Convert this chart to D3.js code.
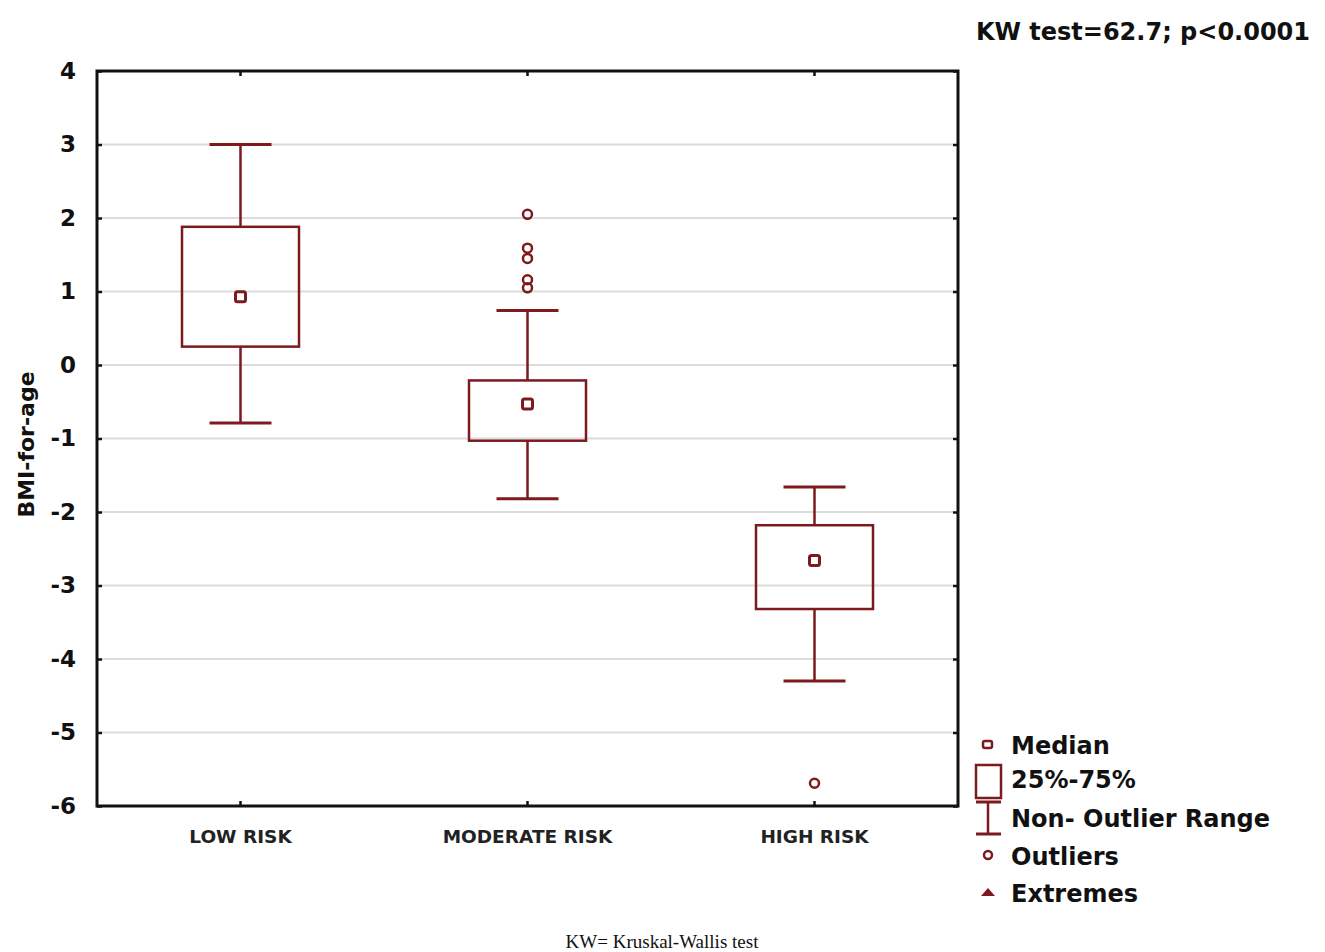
<!DOCTYPE html>
<html>
<head>
<meta charset="utf-8">
<script src="https://cdn.jsdelivr.net/npm/d3@7"></script>
<style>
  body { margin: 0; background: #fff; }
  svg { display: block; }
</style>
</head>
<body>
<svg id="chart"></svg>
<script>
const categories = ["LOW RISK", "MODERATE RISK", "HIGH RISK"];
const whiskerLow = [-0.79, -1.82, -4.3];
const q1 = [0.25, -1.03, -3.32];
const medians = [0.93, -0.53, -2.66];
const q3 = [1.88, -0.21, -2.18];
const whiskerHigh = [3.0, 0.74, -1.66];
const outliers = [[], [2.05, 1.59, 1.45, 1.16, 1.05], [-5.69]];
const yTicks = [4, 3, 2, 1, 0, -1, -2, -3, -4, -5, -6];
const legendLabels = ["Median", "25%-75%", "Non- Outlier Range", "Outliers", "Extremes"];

const W = 1325, H = 952;
const margin = { top: 71, left: 97, right: 367, bottom: 146 };
const red = "#7d1a1e";
const font = "DejaVu Sans, Liberation Sans, Arial, sans-serif";

const svg = d3.select("#chart").attr("width", W).attr("height", H);

const x = d3.scaleBand()
  .domain(categories)
  .range([margin.left, W - margin.right]);
const y = d3.scaleLinear()
  .domain([-6, 4])
  .range([H - margin.bottom, margin.top]);

const data = categories.map((c, i) => ({
  cat: c, lo: whiskerLow[i], q1: q1[i], med: medians[i], q3: q3[i], hi: whiskerHigh[i], out: outliers[i]
}));

// grid
svg.append("g")
  .selectAll("line")
  .data(yTicks.slice(1, -1))
  .join("line")
  .attr("x1", margin.left + 4)
  .attr("x2", W - margin.right - 4)
  .attr("y1", d => y(d))
  .attr("y2", d => y(d))
  .attr("stroke", "#dcdcdc")
  .attr("stroke-width", 2);

// axes
const yAxis = d3.axisLeft(y).tickValues(yTicks).tickSize(-5).tickPadding(21)
  .tickFormat(d => String(d));
svg.append("g")
  .attr("transform", `translate(${margin.left},0)`)
  .call(yAxis)
  .call(g => g.select(".domain").remove())
  .call(g => g.selectAll("line").attr("stroke", "#111").attr("stroke-width", 2.5))
  .call(g => g.selectAll("text")
    .attr("font-family", font).attr("font-weight", "bold").attr("font-size", 23).attr("fill", "#111"));

const yRight = d3.axisRight(y).tickValues(yTicks).tickSize(-5).tickFormat("");
svg.append("g")
  .attr("transform", `translate(${W - margin.right},0)`)
  .call(yRight)
  .call(g => g.select(".domain").remove())
  .call(g => g.selectAll("line").attr("stroke", "#111").attr("stroke-width", 2.5));

const xAxis = d3.axisBottom(x).tickSize(-5).tickPadding(24);
svg.append("g")
  .attr("transform", `translate(0,${H - margin.bottom})`)
  .call(xAxis)
  .call(g => g.select(".domain").remove())
  .call(g => g.selectAll("line").attr("stroke", "#111").attr("stroke-width", 2.5))
  .call(g => g.selectAll("text")
    .attr("font-family", font).attr("font-weight", "bold").attr("font-size", 18.5).attr("fill", "#222"));

const xTop = d3.axisTop(x).tickSize(-5).tickFormat("");
svg.append("g")
  .attr("transform", `translate(0,${margin.top})`)
  .call(xTop)
  .call(g => g.select(".domain").remove())
  .call(g => g.selectAll("line").attr("stroke", "#111").attr("stroke-width", 2.5));

// frame
svg.append("rect")
  .attr("x", margin.left)
  .attr("y", margin.top)
  .attr("width", W - margin.right - margin.left)
  .attr("height", H - margin.bottom - margin.top)
  .attr("fill", "none")
  .attr("stroke", "#111")
  .attr("stroke-width", 3);

// boxes
const boxW = 117, capW = 62, sq = 10;
const g = svg.append("g")
  .selectAll("g")
  .data(data)
  .join("g")
  .attr("transform", d => `translate(${x(d.cat) + x.bandwidth() / 2},0)`);

g.append("line")
  .attr("y1", d => y(d.hi)).attr("y2", d => y(d.q3))
  .attr("stroke", red).attr("stroke-width", 2.5);
g.append("line")
  .attr("y1", d => y(d.q1)).attr("y2", d => y(d.lo))
  .attr("stroke", red).attr("stroke-width", 2.5);
g.append("line")
  .attr("x1", -capW / 2).attr("x2", capW / 2)
  .attr("y1", d => y(d.hi)).attr("y2", d => y(d.hi))
  .attr("stroke", red).attr("stroke-width", 3);
g.append("line")
  .attr("x1", -capW / 2).attr("x2", capW / 2)
  .attr("y1", d => y(d.lo)).attr("y2", d => y(d.lo))
  .attr("stroke", red).attr("stroke-width", 3);
g.append("rect")
  .attr("x", -boxW / 2)
  .attr("y", d => y(d.q3))
  .attr("width", boxW)
  .attr("height", d => y(d.q1) - y(d.q3))
  .attr("fill", "none")
  .attr("stroke", red).attr("stroke-width", 2.5);
g.append("rect")
  .attr("x", -sq / 2)
  .attr("y", d => y(d.med) - sq / 2)
  .attr("width", sq).attr("height", sq)
  .attr("rx", 2)
  .attr("fill", "none")
  .attr("stroke", red).attr("stroke-width", 3);
g.selectAll("circle")
  .data(d => d.out)
  .join("circle")
  .attr("cx", 0)
  .attr("cy", d => y(d))
  .attr("r", 4.5)
  .attr("fill", "none")
  .attr("stroke", red).attr("stroke-width", 2.5);

// y label
svg.append("text")
  .attr("transform", `translate(34,${(margin.top + H - margin.bottom) / 2 + 6}) rotate(-90)`)
  .attr("text-anchor", "middle")
  .attr("font-family", font).attr("font-weight", "bold").attr("font-size", 22)
  .attr("fill", "#111")
  .text("BMI-for-age");

// title
svg.append("text")
  .attr("x", 1310).attr("y", 40)
  .attr("text-anchor", "end")
  .attr("font-family", font).attr("font-weight", "bold").attr("font-size", 24)
  .attr("fill", "#111")
  .text("KW test=62.7; p<0.0001");

// legend
const legY = [745, 779, 818, 856, 893];
const leg = svg.append("g");
leg.selectAll("text")
  .data(legendLabels)
  .join("text")
  .attr("x", 1011)
  .attr("y", (d, i) => legY[i] + 9)
  .attr("font-family", font).attr("font-weight", "bold").attr("font-size", 24)
  .attr("fill", "#111")
  .text(d => d);
leg.append("rect")
  .attr("x", 983).attr("y", legY[0] - 4).attr("width", 9).attr("height", 7).attr("rx", 2)
  .attr("fill", "none").attr("stroke", red).attr("stroke-width", 2.5);
leg.append("rect")
  .attr("x", 976).attr("y", 765).attr("width", 25).attr("height", 33)
  .attr("fill", "none").attr("stroke", red).attr("stroke-width", 2.5);
leg.append("line").attr("x1", 976).attr("x2", 1001).attr("y1", 802).attr("y2", 802)
  .attr("stroke", red).attr("stroke-width", 3);
leg.append("line").attr("x1", 988).attr("x2", 988).attr("y1", 802).attr("y2", 834)
  .attr("stroke", red).attr("stroke-width", 2.5);
leg.append("line").attr("x1", 976).attr("x2", 1001).attr("y1", 834).attr("y2", 834)
  .attr("stroke", red).attr("stroke-width", 3);
leg.append("circle").attr("cx", 988).attr("cy", 855).attr("r", 4)
  .attr("fill", "none").attr("stroke", red).attr("stroke-width", 2.5);
leg.append("path")
  .attr("d", "M981,896 L988,888 L995,896 Z")
  .attr("fill", red);

// caption
svg.append("text")
  .attr("x", 662).attr("y", 948)
  .attr("text-anchor", "middle")
  .attr("font-family", "Liberation Serif, Times New Roman, serif").attr("font-size", 19)
  .attr("fill", "#111")
  .text("KW= Kruskal-Wallis test");
</script>
</body>
</html>
